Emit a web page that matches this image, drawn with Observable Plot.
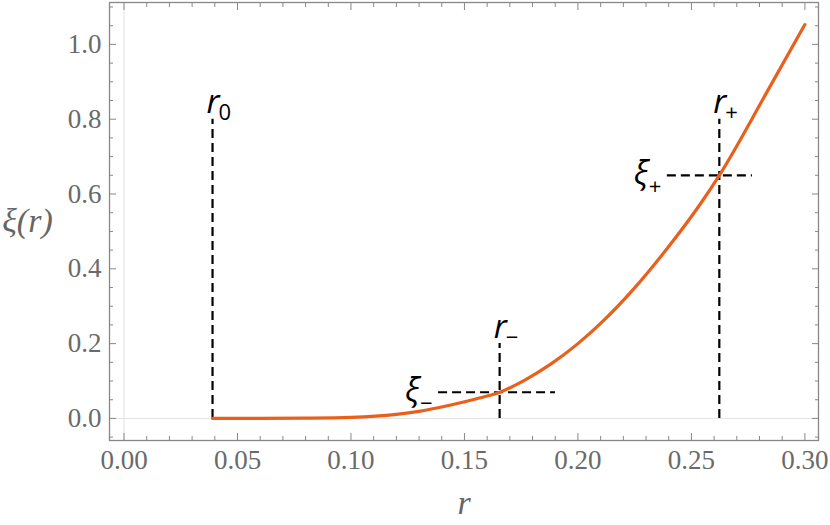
<!DOCTYPE html>
<html><head><meta charset="utf-8">
<script src="https://cdn.jsdelivr.net/npm/d3@7"></script>
<script src="https://cdn.jsdelivr.net/npm/@observablehq/plot@0.6"></script>
<style>body{margin:0;background:#fff}</style>
</head><body><div id="chart"></div>
<script>
// curve ξ(r)
const rValues  = [0.039, 0.06, 0.08, 0.10, 0.12, 0.13, 0.144, 0.155, 0.1655, 0.177, 0.188, 0.20, 0.21, 0.2244, 0.2394, 0.254, 0.2623, 0.2835, 0.30];
const xiValues = [0, 0.0001, 0.0008, 0.003, 0.011, 0.019, 0.036, 0.052, 0.07, 0.104, 0.145, 0.20, 0.254, 0.345, 0.455, 0.574, 0.65, 0.875, 1.053];

// vertical markers
const vMarkX    = [0.039, 0.1655, 0.2623];
const vMarkTop  = [0.8, 0.2, 0.8];
const vMarkSub  = ["0", "\u2212", "+"];

// horizontal markers
const hMarkY    = [0.07, 0.65];
const hMarkX1   = [0.1386, 0.2394];
const hMarkX2   = [0.1901, 0.2769];
const hMarkSub  = ["\u2212", "+"];

// ticks
const xTicks = [0, 0.05, 0.10, 0.15, 0.20, 0.25, 0.30];
const xTickLabels = ["0.00", "0.05", "0.10", "0.15", "0.20", "0.25", "0.30"];
const xMinor = [0.01,0.02,0.03,0.04,0.06,0.07,0.08,0.09,0.11,0.12,0.13,0.14,0.16,0.17,0.18,0.19,0.21,0.22,0.23,0.24,0.26,0.27,0.28,0.29];
const yTicks = [0, 0.2, 0.4, 0.6, 0.8, 1.0];
const yTickLabels = ["0.0", "0.2", "0.4", "0.6", "0.8", "1.0"];
const yMinor = [-0.05,0.05,0.1,0.15,0.25,0.3,0.35,0.45,0.5,0.55,0.65,0.7,0.75,0.85,0.9,0.95,1.05,1.1];

const curve = rValues.map((r, i) => ({r, xi: xiValues[i]}));
const vMarks = vMarkX.map((x, i) => ({x, top: vMarkTop[i], sub: vMarkSub[i]}));
const hMarks = hMarkY.map((y, i) => ({y, x1: hMarkX1[i], x2: hMarkX2[i], sub: hMarkSub[i]}));
const xLab = xTicks.map((v, i) => ({v, t: xTickLabels[i]}));
const yLab = yTicks.map((v, i) => ({v, t: yTickLabels[i]}));

const tickFont = {fontFamily: "Liberation Serif", fontSize: 27, fill: "#6a6a6a"};
const frameColor = "#888";
const dash = "9,5";

const plot = Plot.plot({
  width: 830, height: 525,
  marginLeft: 109, marginRight: 12, marginTop: 2, marginBottom: 85,
  x: {domain: [-0.0064, 0.306]},
  y: {domain: [-0.059, 1.112]},
  style: {background: "#fff", overflow: "visible"},
  marks: [
    Plot.ruleX([0], {stroke: "#e2e2e2", strokeWidth: 1}),
    Plot.ruleY([0], {stroke: "#e2e2e2", strokeWidth: 1}),
    // major/minor ticks, inward
    Plot.axisX({anchor: "bottom", ticks: xTicks, tickSize: -7, text: null, label: null, stroke: frameColor}),
    Plot.axisX({anchor: "bottom", ticks: xMinor, tickSize: -4, text: null, label: null, stroke: frameColor}),
    Plot.axisX({anchor: "top", ticks: xTicks, tickSize: -7, text: null, label: null, stroke: frameColor}),
    Plot.axisX({anchor: "top", ticks: xMinor, tickSize: -4, text: null, label: null, stroke: frameColor}),
    Plot.axisY({anchor: "left", ticks: yTicks, tickSize: -7, text: null, label: null, stroke: frameColor}),
    Plot.axisY({anchor: "left", ticks: yMinor, tickSize: -4, text: null, label: null, stroke: frameColor}),
    Plot.axisY({anchor: "right", ticks: yTicks, tickSize: -7, text: null, label: null, stroke: frameColor}),
    Plot.axisY({anchor: "right", ticks: yMinor, tickSize: -4, text: null, label: null, stroke: frameColor}),
    // tick labels
    Plot.text(xLab, {x: "v", text: "t", frameAnchor: "bottom", lineAnchor: "top", dy: 9, ...tickFont}),
    Plot.text(yLab, {y: "v", text: "t", frameAnchor: "left", textAnchor: "end", lineAnchor: "middle", dx: -8, ...tickFont}),
    Plot.frame({stroke: frameColor, strokeWidth: 1.3}),
    // dashed markers
    Plot.ruleX(vMarks, {x: "x", y1: 0, y2: "top", stroke: "#000", strokeWidth: 2.2, strokeDasharray: dash}),
    Plot.ruleY(hMarks, {y: "y", x1: "x1", x2: "x2", stroke: "#000", strokeWidth: 2.2, strokeDasharray: dash}),
    // curve
    Plot.line(curve, {x: "r", y: "xi", stroke: "#E8601C", strokeWidth: 3.2, curve: "monotone-x"}),
    // marker labels
    Plot.text(vMarks, {x: "x", y: "top", text: () => "r", textAnchor: "start", lineAnchor: "bottom",
      dx: -6, dy: -6, fontSize: 33, fontStyle: "italic", fontFamily: "Open Sans", fill: "#000"}),
    Plot.text(vMarks, {x: "x", y: "top", text: "sub", textAnchor: "start", lineAnchor: "bottom",
      dx: 6, dy: 1, fontSize: 22, fontFamily: "Open Sans", fill: "#000"}),
    Plot.text(hMarks, {x: "x1", y: "y", text: () => "\u03BE", textAnchor: "end", lineAnchor: "bottom",
      dx: -19, dy: 9, fontSize: 33, fontStyle: "italic", fontFamily: "Open Sans", fill: "#000"}),
    Plot.text(hMarks, {x: "x1", y: "y", text: "sub", textAnchor: "end", lineAnchor: "bottom",
      dx: -6, dy: 19, fontSize: 22, fontFamily: "Open Sans", fill: "#000"}),
    // axis titles
    Plot.text(["r"], {frameAnchor: "bottom", lineAnchor: "bottom", dy: 73, fontSize: 34,
      fontStyle: "italic", fontFamily: "Liberation Serif", fill: "#666"}),
    Plot.text(["\u03BE(r)"], {frameAnchor: "left", lineAnchor: "middle", textAnchor: "middle", dx: -82, fontSize: 34,
      fontStyle: "italic", fontFamily: "Liberation Serif", fill: "#666"})
  ]
});
document.getElementById("chart").appendChild(plot);
</script>
</body></html>
